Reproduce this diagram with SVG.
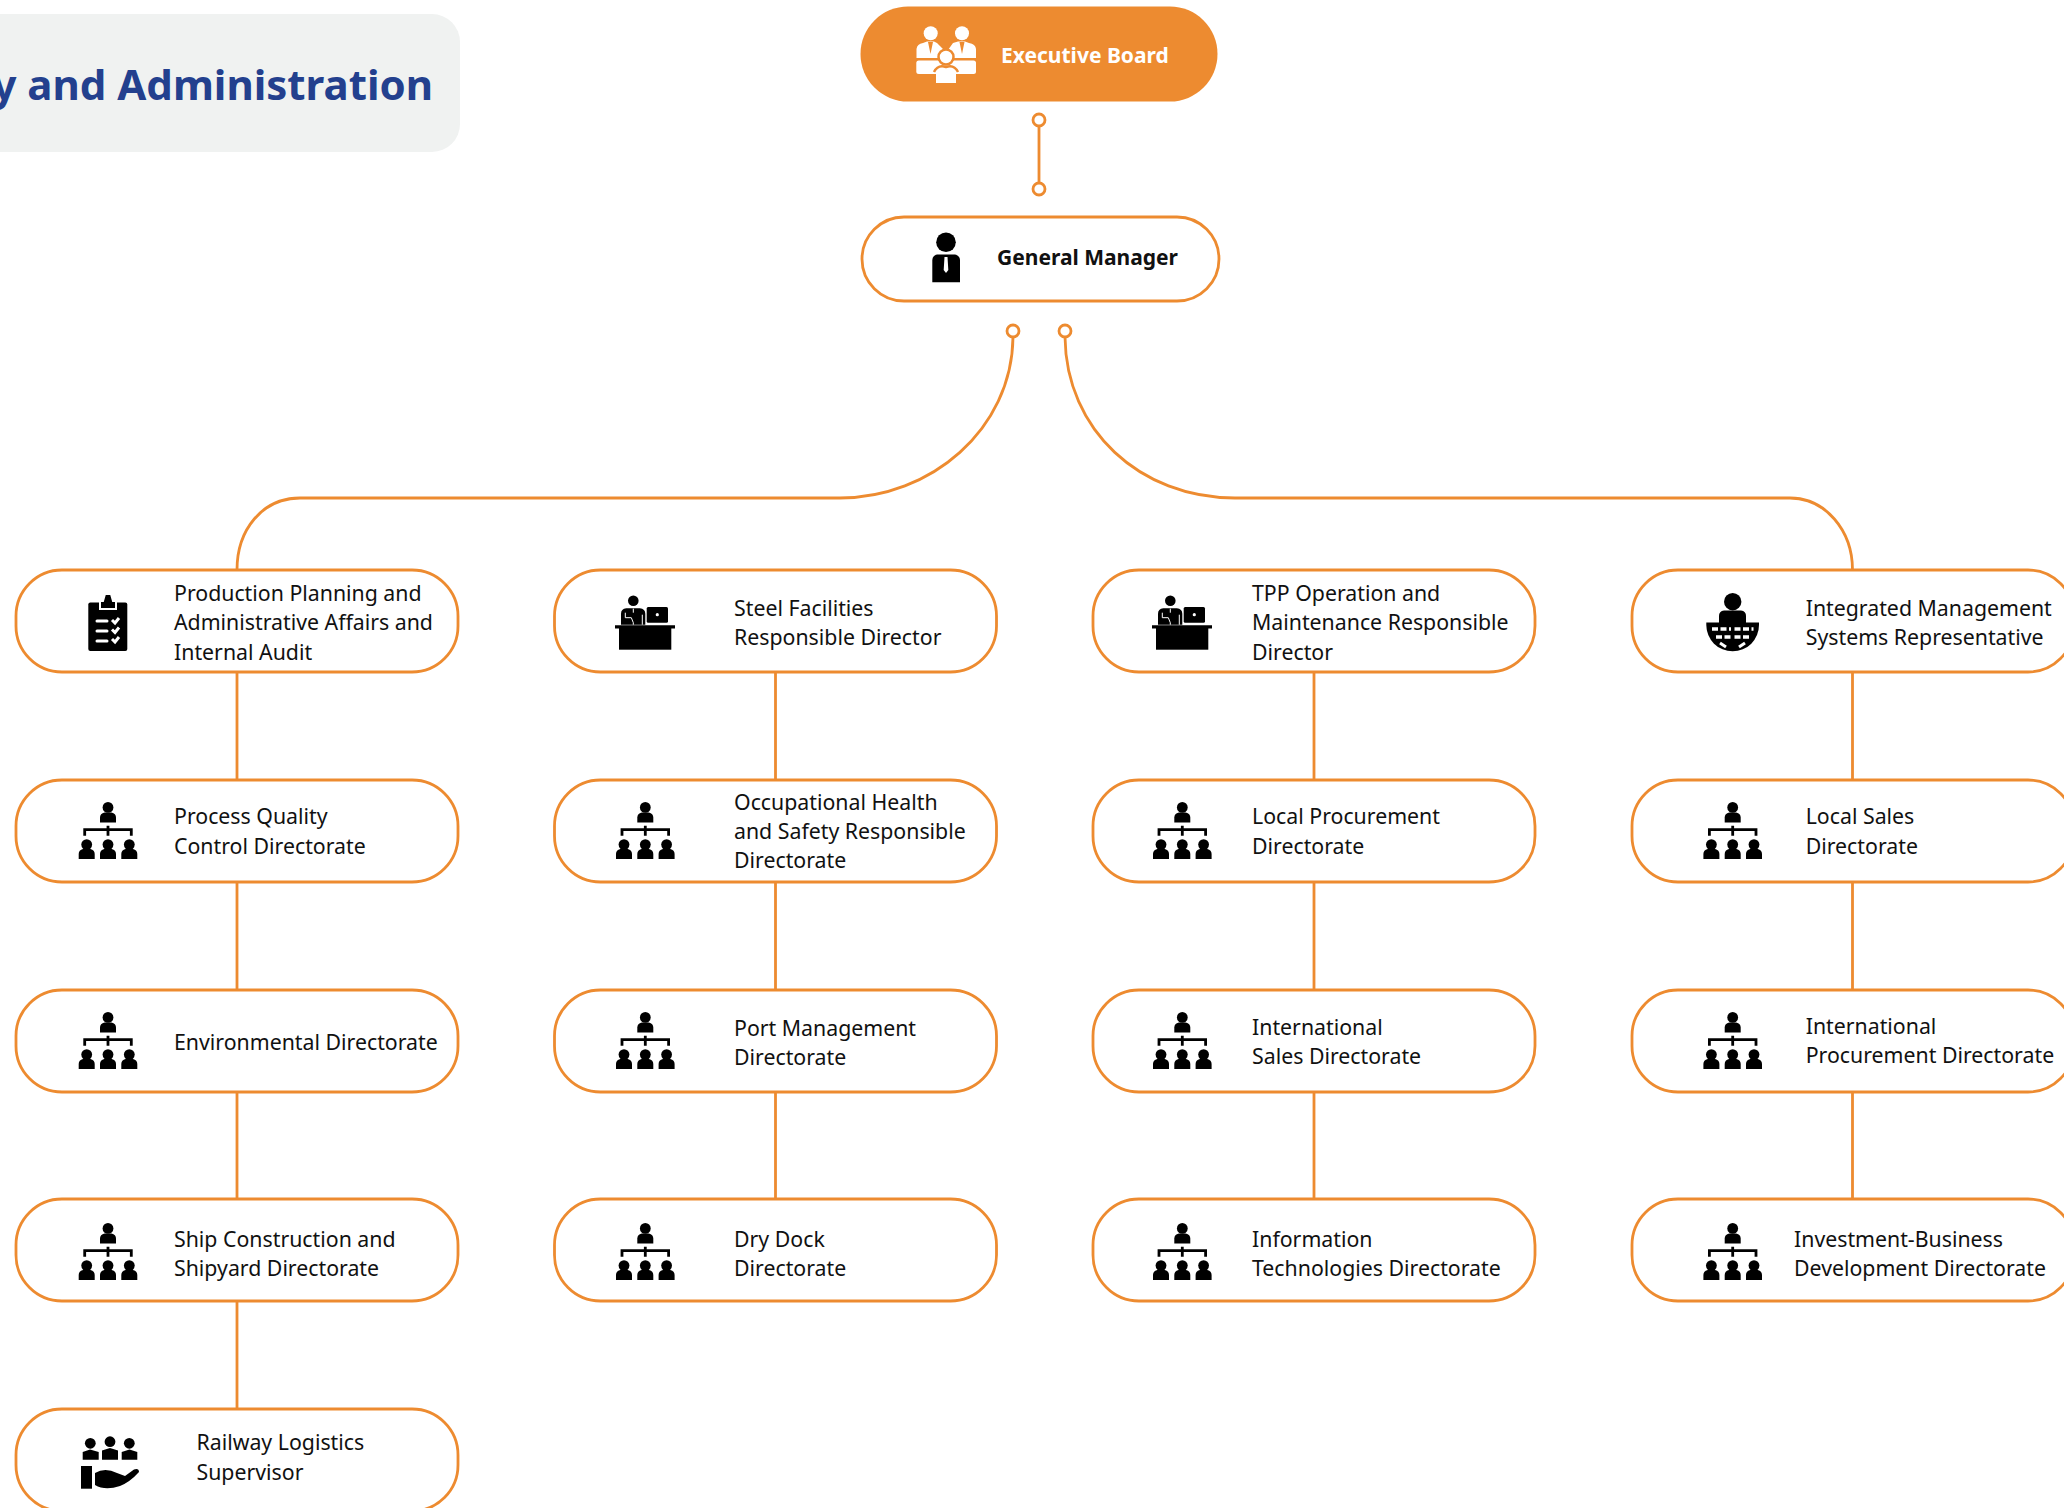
<svg xmlns="http://www.w3.org/2000/svg" width="2064" height="1508" viewBox="0 0 2064 1508">
<style>
.box{fill:#fff;stroke:#ED8B30;stroke-width:2.800}
.ln{fill:none;stroke:#ED8B30;stroke-width:2.800}
.dot{fill:#fff;stroke:#ED8B30;stroke-width:2.800}
text{font-family:"Noto Sans","Noto Sans CJK SC",sans-serif;font-size:21.300px;fill:#111}
.b{font-weight:700;font-size:21px}
.w{stroke:#fff;fill:none}
</style>
<defs>
<g id="h">
<circle cx="0" cy="5.400" r="5.400"/><path d="M-8,20.400V15.500Q-8,11.500-3.500,10.500H3.500Q8,11.500 8,15.500V20.400Z"/>
<path d="M-23.300,33.700V27.600H23.300V33.700M0,23.700V33.700" fill="none" stroke="#000" stroke-width="2.800"/>
<circle cx="-21.300" cy="42.600" r="5.400"/><circle cx="0" cy="42.600" r="5.400"/><circle cx="21.300" cy="42.600" r="5.400"/>
<path d="M-29.300,57V52Q-29.300,48-25,47H-17.600Q-13.300,48-13.300,52V57ZM-8,57V52Q-8,48-3.700,47H3.700Q8,48 8,52V57ZM13.300,57V52Q13.300,48 17.600,47H25Q29.300,48 29.300,52V57Z"/>
</g>
<g id="desk">
<circle cx="-12" cy="0" r="5.300"/>
<path d="M-24.300,24V13Q-24.300,8-19,7.500H-5.500Q0,8 0,13V24Z"/>
<path d="M-12,8V12M-20,12V17H-14L-12,22V24M-3,14V24" class="w" stroke-width="1"/>
<rect x="1.400" y="6.400" width="21.300" height="15.600" rx="1.500"/>
<circle cx="12" cy="14" r="1.600" fill="#fff"/>
<path d="M-30.300,24.500H29.700V27.800H-30.300Z"/>
<rect x="-26.300" y="27" width="52.300" height="22"/>
</g>
</defs>

<g id="title"><rect x="-40" y="14" width="500" height="138" rx="28" fill="#F0F2F1"/>
<text x="433" y="100" text-anchor="end" class="b" style="font-size:42px;fill:#23408E">y and Administration</text></g>

<g id="connectors">
<path class="ln" d="M1039,126V183"/>
<path class="ln" d="M1013,337C1012,430 930,498 840,498H300C262,498 237,530 237,570"/>
<path class="ln" d="M1065,337C1066,430 1140,498 1235,498H1790C1825,498 1852.500,530 1852.500,570"/>
<path class="ln" d="M237,672V1409M775.500,672V1200M1314,672V1200M1852.500,672V1200"/>
<circle class="dot" cx="1039" cy="120" r="6"/><circle class="dot" cx="1039" cy="189" r="6"/>
<circle class="dot" cx="1013" cy="331" r="6"/><circle class="dot" cx="1065" cy="331" r="6"/>
</g>

<g id="executive-board"><rect x="860.500" y="6.500" width="357" height="95" rx="47.500" fill="#ED8B30"/>
<g fill="#fff"><circle cx="930.700" cy="33.300" r="7"/><circle cx="962" cy="33.300" r="7"/>
<path d="M916.500,58V49Q917,44 923,43L927,41.500H934L937,43L944,50L938,58ZM976,58V49Q975.500,44 969,43L965,41.500H958L953,43L948,50L954,58Z"/>
<rect x="916.300" y="60.500" width="59.700" height="13.500" rx="2.500"/>
<circle cx="946" cy="57" r="7.500" stroke="#ED8B30" stroke-width="2.500"/>
<path d="M936,83V74Q936,69 941,68H951Q956,69 956,74V83Z"/>
<path d="M934,72Q938,64 946,67Q954,64 958,72" fill="none" stroke="#ED8B30" stroke-width="2.500"/></g>
<path d="M928,42L930.500,54L933,42ZM959.500,42L962,54L964.500,42Z" fill="#ED8B30"/>
<text x="1001" y="63" class="b" style="fill:#fff">Executive Board</text></g>

<g id="general-manager"><rect class="box" x="862" y="217" width="357" height="84" rx="42"/>
<circle cx="946" cy="242.300" r="9.800"/><path d="M932.300,282.300V260Q932.500,255.500 937,254.500H955Q959.800,255.500 960,260V282.300Z"/>
<path d="M944.500,257H947.500L948.300,270L946,273L943.700,270Z" fill="#fff"/>
<text x="997" y="265" class="b">General Manager</text></g>

<g id="n-production"><rect class="box" x="16" y="570" width="442" height="102" rx="46"/>
<rect x="88.300" y="602.500" width="39" height="48.500" rx="2"/><path d="M100,609V601H103L105,594H111L113,601H116V609Z" fill="#000" stroke="#fff" stroke-width="2"/>
<path d="M97,621H107M97,631H107M97,641H107" class="w" stroke-width="3" stroke-linecap="round"/>
<path d="M112,620L115,623L119,618M112,629.500L115,632.500L119,627.500M112,639L115,642L119,637" class="w" stroke-width="3"/>
<text x="174" y="601">Production Planning and</text><text x="174" y="630">Administrative Affairs and</text><text x="174" y="660">Internal Audit</text></g>
<g id="n-process"><rect class="box" x="16" y="780" width="442" height="102" rx="46"/><use href="#h" x="108" y="802"/>
<text x="174" y="824">Process Quality</text><text x="174" y="854">Control Directorate</text></g>
<g id="n-environmental"><rect class="box" x="16" y="990" width="442" height="102" rx="46"/><use href="#h" x="108" y="1012"/>
<text x="174" y="1050">Environmental Directorate</text></g>
<g id="n-ship"><rect class="box" x="16" y="1199" width="442" height="102" rx="46"/><use href="#h" x="108" y="1223"/>
<text x="174" y="1247">Ship Construction and</text><text x="174" y="1276">Shipyard Directorate</text></g>
<g id="n-railway"><rect class="box" x="16" y="1409" width="442" height="102" rx="46"/>
<circle cx="90.300" cy="1443.300" r="5.400"/><circle cx="110" cy="1441.700" r="5.400"/><circle cx="129.300" cy="1443.300" r="5.400"/>
<path d="M82.700,1459.700V1452L90,1449.500L98.700,1452V1459.700ZM102,1459.700V1450.500L110,1448L118,1450.500V1459.700ZM121.700,1459.700V1452L129.500,1449.500L137.300,1452V1459.700Z"/>
<rect x="81" y="1466" width="11" height="22.700"/>
<path d="M95,1473Q105,1467 117,1473L125,1476L134,1469.500Q139,1468 139,1472Q130,1482 120,1486Q105,1491 95,1485Z"/>
<text x="196.500" y="1450">Railway Logistics</text><text x="196.500" y="1480">Supervisor</text></g>

<g id="n-steel"><rect class="box" x="554.500" y="570" width="442" height="102" rx="46"/><use href="#desk" x="645.300" y="600.700"/>
<text x="734" y="616">Steel Facilities</text><text x="734" y="645">Responsible Director</text></g>
<g id="n-ohs"><rect class="box" x="554.500" y="780" width="442" height="102" rx="46"/><use href="#h" x="645.300" y="802"/>
<text x="734" y="810">Occupational Health</text><text x="734" y="839">and Safety Responsible</text><text x="734" y="868">Directorate</text></g>
<g id="n-port"><rect class="box" x="554.500" y="990" width="442" height="102" rx="46"/><use href="#h" x="645.300" y="1012"/>
<text x="734" y="1036">Port Management</text><text x="734" y="1065">Directorate</text></g>
<g id="n-drydock"><rect class="box" x="554.500" y="1199" width="442" height="102" rx="46"/><use href="#h" x="645.300" y="1223"/>
<text x="734" y="1247">Dry Dock</text><text x="734" y="1276">Directorate</text></g>

<g id="n-tpp"><rect class="box" x="1093" y="570" width="442" height="102" rx="46"/><use href="#desk" x="1182.300" y="600.700"/>
<text x="1252" y="601">TPP Operation and</text><text x="1252" y="630">Maintenance Responsible</text><text x="1252" y="660">Director</text></g>
<g id="n-localproc"><rect class="box" x="1093" y="780" width="442" height="102" rx="46"/><use href="#h" x="1182.300" y="802"/>
<text x="1252" y="824">Local Procurement</text><text x="1252" y="854">Directorate</text></g>
<g id="n-intsales"><rect class="box" x="1093" y="990" width="442" height="102" rx="46"/><use href="#h" x="1182.300" y="1012"/>
<text x="1252" y="1035">International</text><text x="1252" y="1064">Sales Directorate</text></g>
<g id="n-it"><rect class="box" x="1093" y="1199" width="442" height="102" rx="46"/><use href="#h" x="1182.300" y="1223"/>
<text x="1252" y="1247">Information</text><text x="1252" y="1276">Technologies Directorate</text></g>

<g id="n-ims"><rect class="box" x="1632" y="570" width="442" height="102" rx="46"/>
<circle cx="1732.700" cy="601.700" r="8.700"/><path d="M1719,623V616Q1719,611 1724,610.500H1741Q1746,611 1746,616V623Z"/>
<path d="M1706.300,622.500H1759V625A26.300,26.300 0 0 1 1706.300,625Z"/>
<path d="M1712,629H1731M1734.500,629H1753.500M1716,637H1731M1734.500,637H1749.500" class="w" stroke-width="3.500" stroke-dasharray="6 2.500"/>
<path d="M1720,643L1726,647M1745,643L1739,647" class="w" stroke-width="3"/>
<text x="1805.700" y="616">Integrated Management</text><text x="1805.700" y="645">Systems Representative</text></g>
<g id="n-localsales"><rect class="box" x="1632" y="780" width="442" height="102" rx="46"/><use href="#h" x="1732.700" y="802"/>
<text x="1805.700" y="824">Local Sales</text><text x="1805.700" y="854">Directorate</text></g>
<g id="n-intproc"><rect class="box" x="1632" y="990" width="442" height="102" rx="46"/><use href="#h" x="1732.700" y="1012"/>
<text x="1805.700" y="1034">International</text><text x="1805.700" y="1063">Procurement Directorate</text></g>
<g id="n-invest"><rect class="box" x="1632" y="1199" width="442" height="102" rx="46"/><use href="#h" x="1732.700" y="1223"/>
<text x="1794" y="1247">Investment-Business</text><text x="1794" y="1276">Development Directorate</text></g>
</svg>
